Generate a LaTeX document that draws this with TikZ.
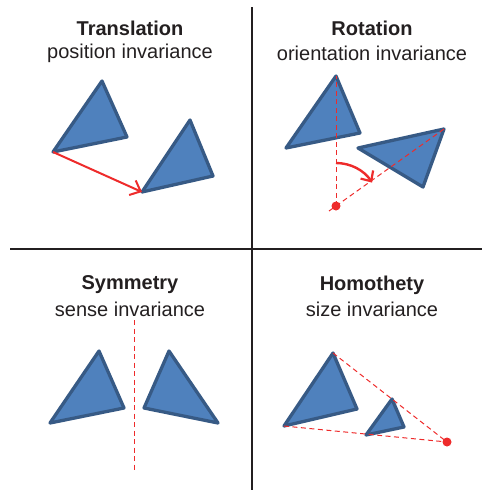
\documentclass[tikz,border=0pt]{standalone}
\usepackage{fontspec}
\setmainfont{Liberation Sans}
\usetikzlibrary{arrows.meta}
\definecolor{triFill}{HTML}{4F81BD}
\definecolor{triEdge}{HTML}{375A85}
\definecolor{redc}{HTML}{EE2B2B}
\definecolor{txt}{HTML}{231F20}
\tikzset{
  tri/.style={fill=triFill,draw=triEdge,line width=3.3pt,line join=round},
  guide/.style={draw=redc,line width=1pt,dash pattern=on 5pt off 3.5pt},
  redarrow/.style={draw=redc,line width=2pt,-{Straight Barb[length=9pt,width=16pt,line width=2pt]}},
  arcarrow/.style={draw=redc,line width=2.4pt,-{Straight Barb[length=8pt,width=15pt,line width=2.2pt]}},
  reddot/.style={fill=redc,draw=none},
  title/.style={font=\bfseries\fontsize{20}{22}\selectfont,text=txt},
  sub/.style={font=\fontsize{20}{22}\selectfont,text=txt},
  divider/.style={draw=txt,line width=1.4pt}
}
\begin{document}
\begin{tikzpicture}[x=1pt,y=-1pt]
\useasboundingbox (0,0) rectangle (482,490);
% dividers
\coordinate (vtop) at (252,7);
\coordinate (vbot) at (252,490);
\coordinate (hl) at (10,249);
\coordinate (hr) at (482,249);
\draw[divider] (vtop) -- (vbot);
\draw[divider] (hl) -- (hr);

% ---------- Translation ----------
\node[title] (t1) at (130,28) {Translation};
\node[sub] (s1) at (130,53) {position invariance};
\coordinate (a1) at (102,81);
\coordinate (a2) at (127,137);
\coordinate (a3) at (53,152);
\coordinate (b1) at (190,120);
\coordinate (b2) at (213,176);
\coordinate (b3) at (142,192);
\draw[tri] (a1) -- (a2) -- (a3) -- cycle;
\draw[tri] (b1) -- (b2) -- (b3) -- cycle;
\draw[redarrow] (a3) -- (b3);

% ---------- Rotation ----------
\node[title] (t2) at (372,28) {Rotation};
\node[sub] (s2) at (372,53) {orientation invariance};
\coordinate (r1) at (336,76);
\coordinate (r2) at (360,133);
\coordinate (r3) at (286,148);
\coordinate (q1) at (444,129);
\coordinate (q2) at (423,187);
\coordinate (q3) at (358,148);
\coordinate (rc) at (336,206);
\coordinate (rext) at (329,211);
\draw[tri] (r1) -- (r2) -- (r3) -- cycle;
\draw[tri] (q1) -- (q2) -- (q3) -- cycle;
\draw[guide] (rc) -- (r1);
\draw[guide] (rext) -- (q1);
\draw[arcarrow] (336,163) arc[start angle=-90,end angle=-33,radius=43];
\fill[reddot] (rc) circle (4.5);

% ---------- Symmetry ----------
\node[title] (t3) at (130,285) {Symmetry};
\node[sub] (s3) at (130,309) {sense invariance};
\coordinate (m1) at (99,351);
\coordinate (m2) at (124,408);
\coordinate (m3) at (50,423);
\coordinate (n1) at (169,351);
\coordinate (n2) at (144,408);
\coordinate (n3) at (218,423);
\coordinate (ax1) at (134,320);
\coordinate (ax2) at (134,470);
\draw[tri] (m1) -- (m2) -- (m3) -- cycle;
\draw[tri] (n1) -- (n2) -- (n3) -- cycle;
\draw[guide] (ax1) -- (ax2);

% ---------- Homothety ----------
\node[title] (t4) at (372,285) {Homothety};
\node[sub] (s4) at (372,309) {size invariance};
\coordinate (h1) at (333,353);
\coordinate (h2) at (357,409);
\coordinate (h3) at (284,426);
\coordinate (k1) at (392,399);
\coordinate (k2) at (404,427);
\coordinate (k3) at (366,435);
\coordinate (hc) at (447,442);
\draw[tri] (h1) -- (h2) -- (h3) -- cycle;
\draw[tri] (k1) -- (k2) -- (k3) -- cycle;
\draw[guide] (h1) -- (hc);
\draw[guide] (h3) -- (hc);
\fill[reddot] (hc) circle (4.5);
\end{tikzpicture}
\end{document}
